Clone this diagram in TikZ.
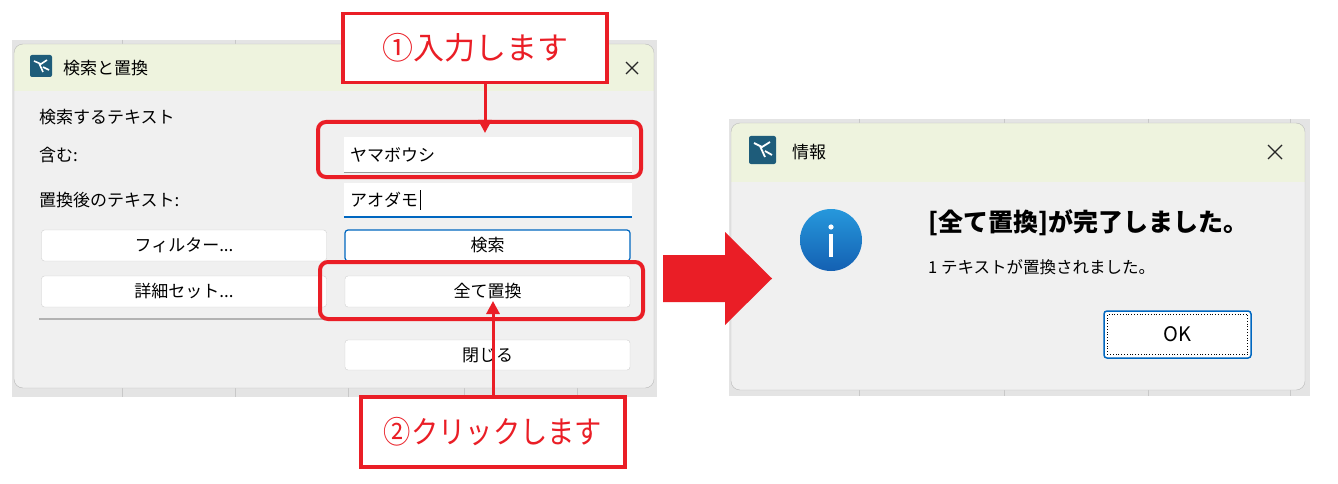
\documentclass[tikz,border=0pt]{standalone}
\usepackage{fontspec}
\setmainfont{Noto Sans CJK JP}
\usetikzlibrary{arrows.meta}

\definecolor{markred}{RGB}{234,30,38}
\definecolor{titlegreen}{RGB}{238,243,222}
\definecolor{dlgbody}{RGB}{240,240,240}
\definecolor{backdrop}{RGB}{228,228,228}
\definecolor{gridline}{RGB}{200,200,200}
\definecolor{btnedge}{RGB}{208,208,208}
\definecolor{focusblue}{RGB}{0,103,192}
\definecolor{appteal}{RGB}{30,92,122}
\definecolor{infotop}{RGB}{38,152,220}
\definecolor{infobot}{RGB}{20,96,178}

\tikzset{
	dlgtext/.style={font=\fontsize{17}{19}\selectfont, inner sep=0pt, anchor=west},
	uibutton/.style={draw=btnedge, fill=white, rounded corners=3pt, inner sep=0pt,
		minimum width=285pt, minimum height=31pt, font=\fontsize{17}{19}\selectfont},
	inputbox/.style={fill=white, inner sep=0pt, minimum width=288pt, minimum height=34pt},
	hilite/.style={draw=markred, line width=4pt, rounded corners=8pt, inner sep=0pt,
		minimum width=323pt, minimum height=56pt},
	callout/.style={draw=markred, fill=white, line width=3.5pt, inner sep=0pt,
		minimum width=264pt, minimum height=69pt, text=markred,
		font=\fontsize{31}{33}\selectfont},
	callarrow/.style={draw=markred, line width=3pt,
		-{Triangle[width=13pt,length=13pt]}},
	closex/.style={line width=1.2pt, black!85},
}

\begin{document}
\begin{tikzpicture}[x=1pt,y=-1pt]

% frame %{{{2

	\useasboundingbox (0,0) rectangle (1338,484);
	\fill[white] (0,0) rectangle (1338,484);

% backdrops %{{{2

	\fill[backdrop] (12,40) rectangle (657,397);
	\fill[backdrop] (729,119) rectangle (1310,396);
	\foreach \x in {122,235,348,464,577} { \draw[gridline] (\x,40) -- (\x,397); }
	\foreach \x in {859,1004,1148,1290} { \draw[gridline] (\x,119) -- (\x,396); }

% left dialog %{{{2

	\def\wl{14}\def\wt{44}\def\wr{654}\def\wb{388}

	\fill[dlgbody, rounded corners=9pt] (\wl,\wt) rectangle (\wr,\wb);
	\begin{scope}
		\clip[rounded corners=9pt] (\wl,\wt) rectangle (\wr,\wb);
		\fill[titlegreen] (\wl,\wt) rectangle (\wr,91);
	\end{scope}
	\draw[gray!55, rounded corners=9pt] (\wl,\wt) rectangle (\wr,\wb);

	\fill[appteal, rounded corners=2pt] (30,55) rectangle (52,77);
	\draw[white, line width=1.6pt] (34,61) -- (41,64) -- (47,60) (39,63) -- (43,72) (43,67) -- (49,70);
	\node[dlgtext] (findtitle) at (63,68) {検索と置換};
	\draw[closex] (626,62) -- (638,74) (626,74) -- (638,62);

	\node[dlgtext] (searchlbl) at (39,117) {検索するテキスト};
	\node[dlgtext] (containlbl) at (39,155) {含む:};
	\node[dlgtext] (replacelbl) at (39,200) {置換後のテキスト:};

	\node[inputbox, minimum height=35pt] (findbox) at (488,154.5) {};
	\draw[gray!80, line width=1pt] (findbox.south west) -- (findbox.south east);
	\node[dlgtext] (findtxt) at (350,155) {ヤマボウシ};

	\node[inputbox] (replbox) at (488,200) {};
	\draw[focusblue, line width=2pt] (replbox.south west) -- (replbox.south east);
	\node[dlgtext] (repltxt) at (350,200) {アオダモ};
	\draw[black, line width=0.9pt] ([xshift=2pt]repltxt.east |- 0,190) -- ([xshift=2pt]repltxt.east |- 0,210);

	\node[uibutton] (filterbtn) at (184,245.5) {フィルター...};
	\node[uibutton, draw=focusblue, line width=1.2pt] (searchbtn) at (487.5,245.5) {検索};
	\node[uibutton] (detailbtn) at (184,291.5) {詳細セット...};
	\node[uibutton] (replallbtn) at (487.5,291.5) {全て置換};
	\node[uibutton, minimum height=30pt] (closebtn) at (487.5,355) {閉じる};

	\draw[gray!60, line width=2pt] (39,319) -- (632,319);

% highlights and callouts %{{{2

	\node[hilite, minimum height=55pt] (hlfind) at (479.5,149.5) {};
	\node[hilite, minimum height=57pt] (hlreplace) at (481.5,290.5) {};

	\node[callout] (stepone) at (475,48) {①入力します};
	\node[callout, minimum height=70pt] (steptwo) at (493,432) {\scalebox{0.88}[1]{②クリックします}};

	\coordinate (tipone) at (485,133);
	\coordinate (tiptwo) at (493,301);

	\draw[callarrow] (tipone |- stepone.south) -- (tipone);
	\draw[callarrow] (steptwo.north) -- (tiptwo);

% right dialog %{{{2

	\def\vl{731}\def\vt{123}\def\vr{1305}\def\vb{390}

	\fill[dlgbody, rounded corners=9pt] (\vl,\vt) rectangle (\vr,\vb);
	\begin{scope}
		\clip[rounded corners=9pt] (\vl,\vt) rectangle (\vr,\vb);
		\fill[titlegreen] (\vl,\vt) rectangle (\vr,182);
	\end{scope}
	\draw[gray!55, rounded corners=9pt] (\vl,\vt) rectangle (\vr,\vb);

	\fill[appteal, rounded corners=2pt] (749,136) rectangle (776,164);
	\draw[white, line width=1.8pt] (754,143) -- (762,147) -- (770,142) (760,146) -- (765,157) (765,151) -- (772,155);
	\node[dlgtext] (infotitle) at (792,152) {情報};
	\draw[closex] (1268,145) -- (1282,159) (1268,159) -- (1282,145);

	\shade[top color=infotop, bottom color=infobot] (831,240) circle (31);
	\fill[white] (831,227) circle (2.6);
	\fill[white] (829,234) rectangle (833,257);

	\node[dlgtext, font=\fontsize{25}{27}\selectfont\bfseries] (donemsg) at (928,223) {[全て置換]が完了しました。};
	\node[dlgtext, font=\fontsize{16.5}{18}\selectfont] (countmsg) at (928,267) {1 テキストが置換されました。};

	\node[uibutton, draw=focusblue, line width=1.5pt, minimum width=147pt, minimum height=47pt,
		font=\fontsize{20}{22}\selectfont] (okbtn) at (1177.5,334.5) {OK};
	\draw[black, dotted, line width=0.8pt] ([shift={(4pt,4pt)}]okbtn.south west) rectangle ([shift={(-4pt,-4pt)}]okbtn.north east);

% block arrow %{{{2

	\fill[markred] (663,255) -- (725,255) -- (725,232) -- (772,278.5)
		-- (725,325) -- (725,302) -- (663,302) -- cycle;

% closing %{{{2

\end{tikzpicture}
\end{document}
